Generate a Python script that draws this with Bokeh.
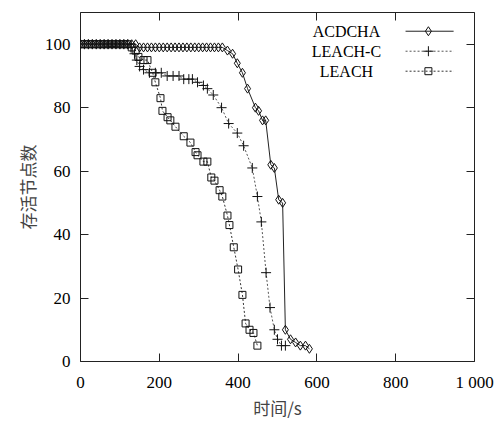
from bokeh.plotting import figure
from bokeh.models import LinearAxis, FixedTicker, Label, Range1d, InlineStyleSheet
from bokeh.embed import file_html
from bokeh.resources import INLINE

# ---- data ----
series_names = ["ACDCHA", "LEACH-C", "LEACH"]

acdcha_x = [0, 10, 20, 30, 40, 50, 60, 70, 80, 90, 100, 110, 120, 130, 140,
            150, 160, 170, 180, 190, 200, 210, 220, 230, 240, 250, 260, 270, 280,
            290, 300, 310, 320, 330, 340, 350, 360,
            373, 386, 398, 411, 424, 444, 452, 462, 470, 483, 492, 503, 513,
            520, 533, 546, 558, 571, 581]
acdcha_y = [100, 100, 100, 100, 100, 100, 100, 100, 100, 100, 100, 100, 100, 100, 100,
            99, 99, 99, 99, 99, 99, 99, 99, 99, 99, 99, 99, 99, 99,
            99, 99, 99, 99, 99, 99, 99, 99,
            98, 97, 94, 91, 86, 80, 79, 76, 76, 62, 61, 51, 50,
            10, 7, 6, 5, 5, 4]

leachc_x = [0, 10, 20, 30, 40, 50, 60, 70, 80, 90, 100, 110, 120,
            128, 137, 143, 150, 160, 175, 190, 205, 220, 235, 250, 262, 275, 284,
            297, 312, 322, 337, 358, 376, 398, 414, 436, 449, 459, 471, 481, 492,
            500, 510, 520]
leachc_y = [100, 100, 100, 100, 100, 100, 100, 100, 100, 100, 100, 100, 100,
            99, 97, 95, 93, 92, 91, 91, 91, 90, 90, 90, 89, 89, 89,
            88, 87, 86, 84, 80, 75, 72, 68, 61, 52, 44, 28, 17, 10,
            7, 5, 5]

leach_x = [0, 10, 20, 30, 40, 50, 60, 70, 80, 90, 100, 110, 120,
           130, 140, 147, 160, 170, 183, 190, 203, 208, 221, 228, 241, 262, 279,
           292, 297, 312, 322, 332, 340, 353, 360, 373, 378, 389, 400, 411, 419,
           429, 439, 449]
leach_y = [100, 100, 100, 100, 100, 100, 100, 100, 100, 100, 100, 100, 100,
           99, 98, 96, 95, 95, 91, 88, 83, 79, 77, 76, 74, 71, 69,
           66, 65, 63, 63, 58, 57, 54, 52, 46, 43, 36, 29, 21, 12,
           10, 9, 5]

x_ticks = [0, 200, 400, 600, 800, 1000]
x_tick_labels = ["0", "200", "400", "600", "800", "1 000"]
y_ticks = [0, 20, 40, 60, 80, 100]
x_label = "时间/s"
y_label = "存活节点数"

# ---- styling ----
SERIF = "Liberation Serif"
CJK = "Noto Sans CJK SC"

p = figure(width=498, height=422, output_backend="svg", toolbar_location=None,
           x_range=Range1d(0, 1000), y_range=Range1d(0, 110),
           min_border_left=80, min_border_right=24, min_border_top=12,
           min_border_bottom=61)
p.stylesheets = [InlineStyleSheet(css=":host { --bokeh-base-font: 'Liberation Serif', serif; }")]
p.xgrid.visible = False
p.ygrid.visible = False
p.outline_line_color = "#222222"
p.outline_line_width = 1
p.background_fill_color = "white"
p.border_fill_color = "white"


def style_axis(ax, ticks, show_labels):
    ax.ticker = FixedTicker(ticks=ticks)
    ax.major_tick_in = 8
    ax.major_tick_out = 0
    ax.minor_tick_in = 0
    ax.minor_tick_out = 0
    ax.major_tick_line_color = "#222222"
    ax.axis_line_color = None
    if show_labels:
        ax.major_label_text_font = SERIF
        ax.major_label_text_font_size = "17px"
        ax.major_label_text_color = "black"
    else:
        ax.major_label_text_font_size = "1px"
        ax.major_label_text_color = None
        ax.major_label_standoff = 0


xa = p.xaxis[0]
style_axis(xa, x_ticks, True)
xa.major_label_overrides = {t: l for t, l in zip(x_ticks, x_tick_labels)}
xa.major_label_standoff = 11
xa.axis_label = x_label
xa.axis_label_text_font = CJK
xa.axis_label_text_font_size = "17px"
xa.axis_label_text_font_style = "normal"
xa.axis_label_standoff = 0

ya = p.yaxis[0]
style_axis(ya, y_ticks, True)
ya.major_label_standoff = 10
ya.axis_label = y_label
ya.axis_label_text_font = CJK
ya.axis_label_text_font_size = "17px"
ya.axis_label_text_font_style = "normal"
ya.axis_label_standoff = 2

top_ax = LinearAxis()
style_axis(top_ax, x_ticks, False)
p.add_layout(top_ax, "above")
right_ax = LinearAxis()
style_axis(right_ax, y_ticks, False)
p.add_layout(right_ax, "right")

# ---- series ----
styles = [
    dict(x=acdcha_x, y=acdcha_y, dash="solid", color="#222222", marker="diamond", size=9),
    dict(x=leachc_x, y=leachc_y, dash="2 2", color="#555555", marker="cross", size=10),
    dict(x=leach_x, y=leach_y, dash="2 2", color="#333333", marker="square", size=7),
]

for s in styles:
    p.line(s["x"], s["y"], line_color=s["color"], line_width=1, line_dash=s["dash"])
    p.scatter(s["x"], s["y"], marker=s["marker"], size=s["size"],
              line_color="#111111", fill_color=None, line_width=1)

# ---- legend (gnuplot style: text, then sample) ----
leg_text_x = 675
leg_line_x0, leg_line_x1, leg_mark_x = 825, 947, 883
leg_rows_y = [104.1, 97.8, 91.5]
for name, s, ly in zip(series_names, styles, leg_rows_y):
    p.add_layout(Label(x=leg_text_x, y=ly, text=name, text_align="center",
                       text_baseline="middle", text_font=SERIF,
                       text_font_size="16px", text_color="black"))
    p.line([leg_line_x0, leg_line_x1], [ly, ly], line_color=s["color"],
           line_width=1, line_dash=s["dash"])
    p.scatter([leg_mark_x], [ly], marker=s["marker"], size=s["size"],
              line_color="#111111", fill_color=None, line_width=1)

open("out.html", "w").write(file_html(p, INLINE))
